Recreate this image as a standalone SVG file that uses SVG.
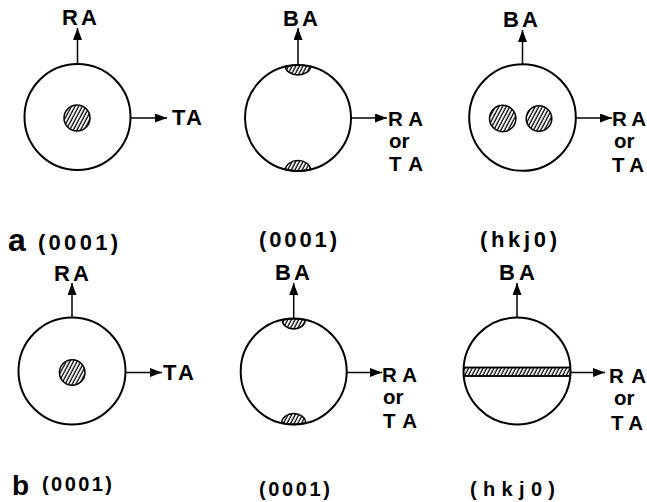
<svg xmlns="http://www.w3.org/2000/svg" width="647" height="502" viewBox="0 0 647 502">
<style>
.ring{fill:none;stroke:#000;stroke-width:2}
.h{fill:url(#hatch);stroke:#000;stroke-width:1.5}
.ax{stroke:#000;stroke-width:1.5;fill:none;marker-end:url(#ah)}
text{font-family:"Liberation Sans",Arial,sans-serif;font-weight:bold;fill:#000}
.t{font-size:22px}
.s{font-size:20.5px}
.lab{font-size:22px}
.labb{font-size:20px}
</style>
<defs>
<pattern id="hatch" width="3.2" height="10" patternUnits="userSpaceOnUse" patternTransform="rotate(28)">
<rect width="3.2" height="10" fill="#fff"/>
<line x1="1" y1="0" x2="1" y2="10" stroke="#000" stroke-width="1.3"/>
</pattern>
<marker id="ah" markerWidth="12" markerHeight="9" refX="12" refY="4.5" orient="auto" markerUnits="userSpaceOnUse">
<path d="M0,0 L12,4.5 L0,9 Z" fill="#000"/>
</marker>
<clipPath id="cb3"><circle cx="517" cy="371" r="53.5"/></clipPath>
</defs>
<g id="connectors">
<line class="ax" x1="77.5" y1="64" x2="77.5" y2="28"/>
<line class="ax" x1="130.5" y1="118" x2="167" y2="118"/>
<line class="ax" x1="298" y1="65" x2="298" y2="28"/>
<line class="ax" x1="351" y1="118" x2="387" y2="118"/>
<line class="ax" x1="522.5" y1="64" x2="522.5" y2="30"/>
<line class="ax" x1="576" y1="118" x2="612" y2="118"/>
<line class="ax" x1="72" y1="317.5" x2="72" y2="283"/>
<line class="ax" x1="125.5" y1="372.5" x2="162" y2="372.5"/>
<line class="ax" x1="293.7" y1="318.5" x2="293.7" y2="283"/>
<line class="ax" x1="346.7" y1="372.5" x2="382" y2="372.5"/>
<line class="ax" x1="517" y1="317.5" x2="517" y2="283"/>
<line class="ax" x1="570.5" y1="372.5" x2="605" y2="372.5"/>
</g>
<g id="a1">
<circle class="ring" cx="77.5" cy="117" r="53"/>
<circle class="h" cx="77" cy="118" r="13"/>
<text class="t" x="62" y="25" textLength="35" lengthAdjust="spacing">RA</text>
<text class="t" x="172" y="125" textLength="30" lengthAdjust="spacing">TA</text>
</g>
<g id="a2">
<path class="h" d="M285.5,66.4 A53,53 0 0 1 310.5,66.4 A12.5,8.5 0 0 1 285.5,66.4 Z"/>
<path class="h" d="M285.5,169.6 A53,53 0 0 0 310.5,169.6 A12.5,9 0 0 0 285.5,169.6 Z"/>
<circle class="ring" cx="298" cy="118" r="53"/>
<text class="t" x="283" y="26" textLength="35" lengthAdjust="spacing">BA</text>
<text class="s" x="388" y="126" textLength="35" lengthAdjust="spacing">RA</text>
<text class="s" x="389" y="148">or</text>
<text class="s" x="389" y="171" textLength="34" lengthAdjust="spacing">TA</text>
</g>
<g id="a3">
<circle class="ring" cx="522.5" cy="117.5" r="53.3"/>
<circle class="h" cx="502.7" cy="118.5" r="13.2"/>
<circle class="h" cx="539" cy="118.5" r="12.8"/>
<text class="t" x="503" y="27" textLength="35" lengthAdjust="spacing">BA</text>
<text class="s" x="612" y="126" textLength="34" lengthAdjust="spacing">RA</text>
<text class="s" x="614" y="148">or</text>
<text class="s" x="612" y="172" textLength="32" lengthAdjust="spacing">TA</text>
</g>
<g id="b1">
<circle class="ring" cx="72" cy="371" r="53.5"/>
<circle class="h" cx="72.2" cy="372.5" r="12.8"/>
<text class="t" x="54" y="281" textLength="35" lengthAdjust="spacing">RA</text>
<text class="t" x="163" y="380" textLength="31" lengthAdjust="spacing">TA</text>
</g>
<g id="b2">
<path class="h" d="M282.2,320 A53,53 0 0 1 305.2,320 A11.5,9 0 0 1 282.2,320 Z"/>
<path class="h" d="M281.7,423 A53,53 0 0 0 305.7,423 A12,9.5 0 0 0 281.7,423 Z"/>
<circle class="ring" cx="293.7" cy="371.5" r="53"/>
<text class="t" x="275" y="280" textLength="35" lengthAdjust="spacing">BA</text>
<text class="s" x="382" y="382" textLength="35" lengthAdjust="spacing">RA</text>
<text class="s" x="383" y="404">or</text>
<text class="s" x="383" y="428" textLength="34" lengthAdjust="spacing">TA</text>
</g>
<g id="b3">
<rect class="h" x="460" y="367.5" width="115" height="8.5" clip-path="url(#cb3)"/>
<line x1="463" y1="367.5" x2="571" y2="367.5" stroke="#000" stroke-width="1.5"/>
<line x1="463" y1="376" x2="571" y2="376" stroke="#000" stroke-width="1.5"/>
<circle class="ring" cx="517" cy="371" r="53.5"/>
<text class="t" x="499" y="280" textLength="36" lengthAdjust="spacing">BA</text>
<text class="s" x="609" y="383" textLength="37" lengthAdjust="spacing">RA</text>
<text class="s" x="614" y="405">or</text>
<text class="s" x="611" y="430" textLength="32" lengthAdjust="spacing">TA</text>
</g>
<g id="labels">
<text x="8" y="251" font-size="32">a</text>
<text class="lab" x="38" y="250" textLength="80" lengthAdjust="spacing">(0001)</text>
<text class="lab" x="259" y="247" textLength="78" lengthAdjust="spacing">(0001)</text>
<text class="lab" x="480" y="247" textLength="77" lengthAdjust="spacing">(hkj0)</text>
<text x="12" y="495" font-size="28">b</text>
<text class="labb" x="42" y="491" textLength="70" lengthAdjust="spacing">(0001)</text>
<text class="labb" x="259" y="496" textLength="71" lengthAdjust="spacing">(0001)</text>
<text class="labb" x="470" y="496" textLength="85" lengthAdjust="spacing">(hkj0)</text>
</g>
</svg>
